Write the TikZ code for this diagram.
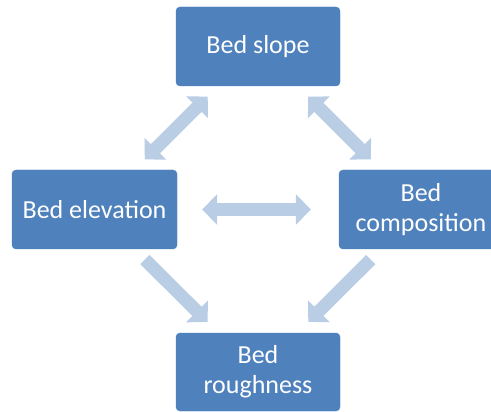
\documentclass[tikz,border=0pt]{standalone}
\usepackage{fontspec}
\setmainfont{Carlito}
\usepackage{tikz}
\usetikzlibrary{positioning, arrows.meta, calc}
\usepackage{xcolor}

\definecolor{boxblue}{HTML}{4F81BD}
\definecolor{boxline}{HTML}{4A7EBB}
\definecolor{arrowblue}{HTML}{B9CDE5}

\tikzset{
  bedbox/.style={rectangle, rounded corners=4pt, draw=boxline, fill=boxblue, text=white,
    minimum width=164pt, minimum height=79pt, align=center,
    font=\fontsize{26}{30}\selectfont},
  twoway/.style={draw=arrowblue, line width=13pt, {Triangle[width=30pt,length=15pt]}-{Triangle[width=30pt,length=15pt]}},
  oneway/.style={draw=arrowblue, line width=13pt, -{Triangle[width=30pt,length=15pt]}}
}

\begin{document}
\begin{tikzpicture}[x=1pt,y=-1pt]

\clip (0,0) rectangle (491,412);

% boxes
\node[bedbox] (slope) at (258,46.5) {Bed slope};
\node[bedbox, minimum width=165pt] (elev) at (94.5,209.5) {Bed elevation};
\node[bedbox] (comp) at (421,209.5) {Bed\\composition};
\node[bedbox, minimum height=78pt] (rough) at (258,372) {Bed\\roughness};

% arrows
\draw[twoway, shorten <=71pt, shorten >=71pt] (elev.center) -- (slope.center);
\draw[twoway, shorten <=71pt, shorten >=71pt] (slope.center) -- (comp.center);
\draw[twoway, shorten <=25pt, shorten >=28pt] (elev.east) -- (comp.west);
\draw[oneway, shorten <=71pt, shorten >=71pt] (elev.center) -- (rough.center);
\draw[oneway, shorten <=71pt, shorten >=71pt] (comp.center) -- (rough.center);

\end{tikzpicture}
\end{document}
